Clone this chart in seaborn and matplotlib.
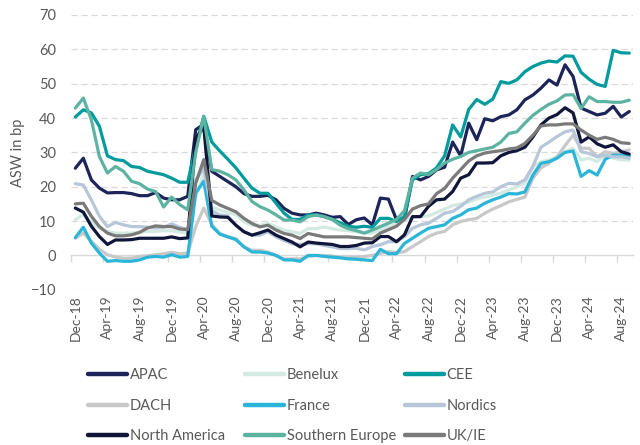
import pandas as pd
import numpy as np
import matplotlib
matplotlib.use("Agg")
import matplotlib.pyplot as plt
from matplotlib.lines import Line2D
import seaborn as sns

# monthly ASW spreads, Dec-18 .. Sep-24
months = pd.date_range("2018-12-01", periods=70, freq="MS")

apac = [25.4, 28.3, 22, 19.6, 18.2, 18.3, 18.3, 18, 17.4, 17.4, 18.3, 16.7, 16.2, 16.2, 17.2, 36.6, 38.2,
        24.5, 23, 21.5, 20, 18, 17.2, 17.2, 17.5, 16.2, 13.7, 12.3, 11.8, 11.8, 12.3, 11.8, 11.1, 11.3,
        9, 10.4, 10.9, 8.9, 16.7, 16.4, 10.4, 10.6, 23, 22, 23, 24.9, 25.7, 33, 29, 38.5, 33.7, 39.8,
        39.2, 40.4, 40.9, 42.4, 45.3, 46.7, 48.7, 51.1, 49.6, 55.5, 52.1, 42.9, 41.9, 40.9, 41.4, 43.4, 40.3, 41.9]
benelux = [10.4, 12, 9.5, 8, 7, 6.5, 6.5, 6.5, 6.8, 7, 7, 7.2, 7.2, 6.8, 6.5, 17, 24,
           14, 13.2, 12.5, 11.8, 9.8, 8.8, 8.8, 9.3, 8.3, 7.4, 6.9, 6.4, 7.8, 7.8, 8.3, 7.8, 7.4,
           7.2, 6.9, 6.5, 6.5, 7.5, 8.5, 9.5, 10.5, 11, 11.3, 11.5, 12.5, 13.5, 14.5, 15, 15.5, 16.5, 17,
           17.6, 18.2, 19, 20, 21, 25.8, 27.3, 27.8, 28.7, 30.2, 31.2, 27.8, 28.3, 27.3, 29.2, 28.3, 27.8, 27.8]
cee = [40.3, 42.4, 41.5, 37.6, 29, 27.9, 27.6, 25.9, 25.6, 24.5, 24, 23.5, 22.5, 21.3, 21.3, 31.7, 40.5,
       33, 30.4, 28, 25.5, 22.5, 19.6, 18.1, 18.1, 15.2, 12.3, 10.5, 10.5, 11.8, 11.8, 11.3, 10.5, 9.5,
       8.5, 8.2, 8.5, 8.2, 10.8, 10.8, 9.9, 11.3, 22, 23.5, 23.8, 25.5, 29, 38, 34.5, 42.5, 45.4, 44,
       45.5, 50.6, 50.1, 51.1, 53.5, 55, 56, 56.6, 56.3, 58.1, 58, 53.3, 51.3, 49.8, 49.2, 59.7, 59, 58.9]
dach = [5, 6.5, 4.1, 1.8, 0.2, -0.5, -0.8, -0.8, -0.3, -0.1, 0.2, 0.5, 0.9, 0.5, 0.7, 8.4, 13.8,
        9, 6.4, 5.4, 4.9, 2.5, 1.5, 1.5, 1, 0, -1, -1, -1, -0.3, 0, 0, -0.2, -0.5,
        -0.5, -0.5, -0.3, 0, 0.6, 1.1, 0.8, 1.1, 2.6, 4, 5.5, 6.5, 7, 8.9, 9.9, 10.4, 10.8, 12.3,
        13.5, 14.5, 15.6, 16.3, 17, 22.5, 25.5, 26.8, 28.7, 32, 35, 31.2, 31.2, 28.7, 30.2, 29.7, 30.2, 30.7]
france = [5.2, 8.2, 3.6, 0.7, -1.7, -1.5, -1.7, -1.7, -1.3, -0.5, -0.3, -0.5, 0.2, -0.5, -0.3, 18.2, 21.6,
          8.5, 6.2, 5.4, 4.6, 2.5, 1, 1, 0.7, 0, -1.3, -1.3, -1.7, 0, 0, -0.3, -0.5, -0.7,
          -1, -1.1, -1.3, -1.5, 1.8, 0.5, 0.5, 3.5, 5, 6.5, 7.9, 8.4, 8.9, 10.8, 11.8, 13.3, 13.8, 15.2,
          16.2, 17, 18, 17.9, 18.5, 23.4, 26.8, 27.3, 28.3, 30, 30.4, 23, 24.7, 23.4, 28, 29.2, 29.2, 29]
nordics = [20.9, 20.5, 16.2, 11.4, 8.4, 9.6, 8.9, 8.4, 8.4, 8.2, 8, 8.2, 9.2, 8.2, 7.5, 22, 25.4,
           13, 11.8, 11.5, 8.8, 6.9, 5.9, 5.9, 6.9, 5.4, 4.4, 3.4, 3.2, 3.4, 3.4, 2.9, 2.5, 2,
           2, 2.1, 1.6, 2.6, 3.1, 4, 4, 5.5, 7.9, 8.9, 9.4, 10.8, 12.3, 12.8, 14.3, 16.2, 17.2, 18.1,
           18.5, 20, 21, 20.8, 22, 26, 31.5, 33, 34.6, 36, 36.5, 30.2, 29.7, 28.7, 29.2, 28.7, 28.7, 28.3]
north_america = [13.8, 12.6, 8.5, 5.5, 3.2, 4.5, 4.5, 4.6, 5, 5, 5, 5, 5.4, 4.9, 5.1, 34, 37.5,
                 11.5, 11.2, 11.1, 8.8, 6.9, 5.9, 6.6, 7.4, 5.9, 4.9, 3.9, 2.5, 3.9, 3.6, 3.4, 3.2, 2.6,
                 2.6, 2.9, 3.6, 3.7, 5.5, 5.5, 4, 6, 11.3, 11.3, 14.3, 16.2, 16.4, 18.6, 22.5, 23.5, 26.9, 26.9,
                 27, 29, 30, 30.5, 31.5, 34.5, 38, 40, 41, 43, 41.5, 33, 34.5, 32.5, 31.5, 32.2, 30.2, 29.5]
southern_europe = [42.9, 45.8, 39.5, 28.8, 24, 25.9, 24.5, 21.6, 20.9, 19.3, 18.6, 14.1, 17, 14.8, 13.3, 30, 40.5,
                   25, 24.5, 23.5, 22, 19.1, 15.7, 14.2, 13.2, 11.8, 10.3, 10.3, 9.8, 11.3, 11.8, 11.3, 10.5, 8.8,
                   7.8, 7.2, 6.5, 7.4, 8.4, 9.4, 10.5, 13, 22.5, 24, 23.5, 25, 26.9, 28, 28.8, 30, 30.5, 31,
                   31.5, 33, 35.5, 36, 38.5, 40.8, 42.5, 44, 45, 46.7, 46.8, 42.8, 46.2, 44.8, 44.8, 44.6, 44.6, 45.2]
uk_ie = [15, 15.2, 11.4, 8.4, 6.5, 5.7, 5.7, 6, 6.7, 8, 8.6, 8.4, 8.4, 7.7, 7.5, 21, 27.9,
         16, 14.7, 13.7, 12.7, 10.8, 9.3, 8.3, 8.8, 7.4, 6.4, 5.9, 4.9, 6.4, 5.9, 5.4, 5.4, 5.4,
         5.4, 5.2, 5, 4.8, 6.5, 7.5, 8.5, 10.5, 13.5, 14.5, 15, 18, 19.5, 22.5, 25, 27.5, 29, 29.8,
         30.2, 30.5, 31, 31.3, 32.6, 35, 37.7, 38, 38, 38.3, 38.3, 36.5, 35, 33.8, 34.4, 33.8, 32.8, 32.6]

regions = ["APAC", "Benelux", "CEE", "DACH", "France", "Nordics",
           "North America", "Southern Europe", "UK/IE"]
series = [apac, benelux, cee, dach, france, nordics, north_america, southern_europe, uk_ie]
colors = ["#1c2459", "#d3eae3", "#009b9c", "#c8c8c8", "#2bb5d8", "#b7c6d9",
          "#10163a", "#5db3a1", "#7a7a7a"]
palette = dict(zip(regions, colors))

df = pd.concat([pd.DataFrame({"month": np.arange(len(months)), "asw": vals, "region": name})
                for name, vals in zip(regions, series)], ignore_index=True)

sns.set_style("white")
plt.rcParams["font.family"] = ["Lato", "DejaVu Sans"]
grey = "#595959"

fig = plt.figure(figsize=(6.4, 4.45), dpi=100)
ax = fig.add_axes([0.1114, 0.3488, 0.8781, 0.6175])

sns.lineplot(data=df, x="month", y="asw", hue="region", hue_order=regions,
             palette=palette, linewidth=2.3, legend=False, ax=ax)

ax.set_xlim(-0.5, len(months) - 0.5)
ax.set_ylim(-10, 70)
ax.set_yticks(range(-10, 71, 10))
for v in range(-10, 71, 10):
    if v != 0:
        ax.axhline(v, color="#d9d9d9", lw=0.9, ls=(0, (5, 3)), zorder=0)
for s in ax.spines.values():
    s.set_visible(False)

# category axis crossing at zero with tick marks between groups of 4 months
ax0 = ax.secondary_xaxis(0.125)
ax0.spines["bottom"].set_color("#d9d9d9")
ax0.spines["bottom"].set_linewidth(1.0)
ax0.set_xticks(np.arange(-0.5, len(months) - 1, 4))
ax0.tick_params(axis="x", length=5, width=1.0, color="#d9d9d9", labelbottom=False)

ax.set_xticks(np.arange(0, len(months), 4))
ax.set_xticklabels([m.strftime("%b-%y") for m in months[::4]], rotation=90)
ax.tick_params(axis="x", length=0, pad=4, labelsize=10, labelcolor=grey)
ax.tick_params(axis="y", length=0, pad=11, labelsize=10.5, labelcolor=grey)
ax.set_xlabel("")
ax.set_ylabel("ASW in bp", fontsize=10.5, color=grey, labelpad=4)
ax.grid(False)

# legend: three fixed-width columns, filled row by row
col_x = [0.1375, 0.383, 0.633]
for c in range(3):
    names = regions[c::3]
    handles = [Line2D([], [], color=palette[n], lw=3.2) for n in names]
    fig.legend(handles, names, loc="upper left", bbox_to_anchor=(col_x[c], 0.172),
               frameon=False, borderpad=0, borderaxespad=0, handlelength=2.7,
               handletextpad=0.15, labelspacing=1.12, fontsize=10.5, labelcolor=grey)

fig.savefig("out.png", dpi=100)
